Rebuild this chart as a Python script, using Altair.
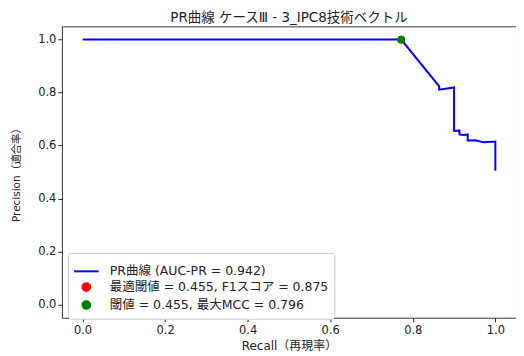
import altair as alt
import pandas as pd

recall = [0.0, 0.772, 0.864, 0.864, 0.900, 0.900, 0.913, 0.913, 0.923, 0.933, 0.933, 0.951, 0.972, 1.0, 1.0]
precision = [1.0, 1.0, 0.823, 0.811, 0.819, 0.655, 0.657, 0.642, 0.640, 0.642, 0.619, 0.620, 0.612, 0.615, 0.505]

series_names = ["PR曲線 (AUC-PR = 0.942)", "最適閾値 = 0.455, F1スコア = 0.875", "閾値 = 0.455, 最大MCC = 0.796"]
series_colors = ["#0000ff", "#ff0000", "#008000"]
series_shapes = ["stroke", "circle", "circle"]
pt_recall = [0.772, 0.772]
pt_precision = [1.0, 1.0]

FONT = "DejaVu Sans, Noto Sans CJK JP"

curve = pd.DataFrame({"recall": recall, "precision": precision, "order": range(len(recall)),
                      "series": series_names[0]})
pts = pd.DataFrame({"recall": pt_recall, "precision": pt_precision, "series": series_names[1:]})

xs = alt.Scale(domain=[-0.05, 1.05], nice=False, zero=False)
ys = alt.Scale(domain=[-0.05, 1.05], nice=False, zero=False)
cscale = alt.Scale(domain=series_names, range=series_colors)
sscale = alt.Scale(domain=series_names, range=series_shapes)
zscale = alt.Scale(type="ordinal", domain=series_names, range=[600, 60, 60])

leg = alt.Legend(title=None, orient="none", legendX=6, legendY=227,
                 fillColor="white", strokeColor="#cccccc", cornerRadius=3, padding=5,
                 labelFont=FONT, labelFontSize=12.5, labelColor="#222222", labelLimit=400,
                 symbolStrokeWidth=2, rowPadding=1, labelOffset=10)

xax = alt.Axis(values=[0, 0.2, 0.4, 0.6, 0.8, 1.0], format=".1f", grid=False,
               title="Recall（再現率）", titleFont=FONT, titleFontSize=12, titleFontWeight="normal",
               labelFont=FONT, labelFontSize=11.5, labelColor="#222222", titleColor="#222222",
               tickColor="#222222", domain=False, tickSize=4, titlePadding=4, labelPadding=3)
yax = alt.Axis(values=[0, 0.2, 0.4, 0.6, 0.8, 1.0], format=".1f", grid=False,
               title="Precision（適合率）", titleFont=FONT, titleFontSize=10.5, titleFontWeight="normal",
               labelFont=FONT, labelFontSize=11.5, labelColor="#222222", titleColor="#222222",
               tickColor="#222222", domain=False, tickSize=4, titlePadding=16)

line = alt.Chart(curve).mark_line(strokeWidth=2).encode(
    x=alt.X("recall:Q", scale=xs, axis=xax),
    y=alt.Y("precision:Q", scale=ys, axis=yax),
    order="order:Q",
    color=alt.Color("series:N", scale=cscale, legend=leg),
)

points = alt.Chart(pts).mark_point(filled=True, opacity=1).encode(
    x=alt.X("recall:Q", scale=xs),
    y=alt.Y("precision:Q", scale=ys),
    color=alt.Color("series:N", scale=cscale, legend=leg),
    shape=alt.Shape("series:N", scale=sscale, legend=leg),
    size=alt.Size("series:N", scale=zscale, legend=leg),
)

chart = alt.layer(line, points).properties(
    width=455, height=292,
    title=alt.TitleParams("PR曲線 ケースⅢ - 3_IPC8技術ベクトル", font=FONT, fontSize=13.5,
                          fontWeight="normal", color="#222222", anchor="middle", offset=2),
    autosize=alt.AutoSizeParams(type="none"),
    padding={"left": 54, "top": 18, "right": 0, "bottom": 38},
).configure_view(stroke="#333333", strokeWidth=1)

chart.save("out.html", embed_options={"renderer": "svg", "actions": False})
